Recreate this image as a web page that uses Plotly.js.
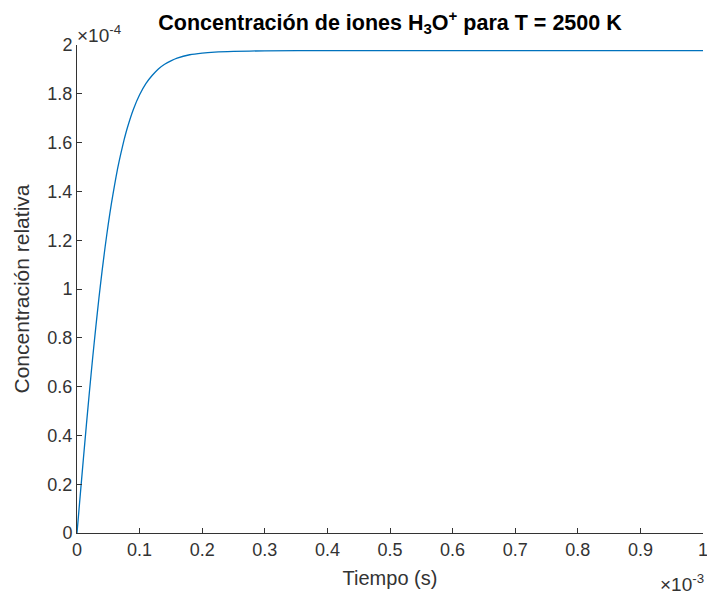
<!DOCTYPE html>
<html>
<head>
<meta charset="utf-8">
<script src="https://cdn.plot.ly/plotly-3.0.1.min.js"></script>
<style>html,body{margin:0;padding:0;background:#fff;}#chart{width:707px;height:598px;}</style>
</head>
<body>
<div id="chart"></div>
<script>
// Tiempo in units of 1e-3 s, concentration in units of 1e-4
const tiempo = [0, 0.005, 0.01, 0.015, 0.02, 0.025, 0.03, 0.035, 0.04, 0.045, 0.05, 0.055, 0.06, 0.065, 0.07, 0.075, 0.08, 0.09, 0.10, 0.11, 0.12, 0.13, 0.14, 0.15, 0.16, 0.18, 0.20, 0.22, 0.25, 0.30, 0.40, 0.60, 0.80, 1.0];
const concentracion = [0, 0.150, 0.298, 0.443, 0.583, 0.717, 0.843, 0.962, 1.072, 1.174, 1.267, 1.351, 1.426, 1.495, 1.555, 1.609, 1.657, 1.736, 1.796, 1.842, 1.875, 1.902, 1.921, 1.935, 1.946, 1.960, 1.967, 1.971, 1.974, 1.976, 1.977, 1.977, 1.977, 1.977];
const xTicks = [0, 0.1, 0.2, 0.3, 0.4, 0.5, 0.6, 0.7, 0.8, 0.9, 1];
const yTicks = [0, 0.2, 0.4, 0.6, 0.8, 1, 1.2, 1.4, 1.6, 1.8, 2];

const FONT = 'Liberation Sans, Arial, Helvetica, sans-serif';
const AX = '#333333';

const trace = {
  x: tiempo, y: concentracion, type: 'scatter', mode: 'lines',
  line: {color: '#0072BD', width: 1.3, shape: 'spline', smoothing: 0.6},
  hoverinfo: 'none', cliponaxis: false
};

const axisCommon = {
  showgrid: false, zeroline: false, showline: true, linecolor: AX, linewidth: 1,
  ticks: 'inside', ticklen: 5, tickwidth: 1, tickcolor: AX, mirror: false,
  ticklabeloverflow: 'allow',
  tickfont: {family: FONT, size: 18, color: AX}
};

const layout = {
  width: 707, height: 598,
  margin: {l: 77, r: 4, t: 45, b: 65},
  paper_bgcolor: '#fff', plot_bgcolor: '#fff',
  showlegend: false,
  title: {
    text: '<b>Concentración de iones H<sub>3</sub>O<sup>+</sup> para T = 2500 K</b>',
    font: {family: FONT, size: 21.5, color: '#000'},
    x: 0.5, xref: 'paper', xanchor: 'center', y: 0.963, yanchor: 'middle'
  },
  xaxis: Object.assign({}, axisCommon, {
    range: [0, 1], tickvals: xTicks, ticktext: xTicks.map(String),
    title: {text: 'Tiempo (s)', font: {family: FONT, size: 20, color: AX}, standoff: 12}
  }),
  yaxis: Object.assign({}, axisCommon, {
    range: [0, 2], tickvals: yTicks, ticktext: yTicks.map(String),
    title: {text: 'Concentración relativa', font: {family: FONT, size: 21, color: AX}, standoff: 12}
  }),
  annotations: [
    {xref: 'paper', yref: 'paper', x: 0, y: 1, xanchor: 'left', yanchor: 'bottom',
     text: '×10<sup>-4</sup>', showarrow: false, font: {family: FONT, size: 19, color: AX}, yshift: -3, xshift: -2},
    {xref: 'paper', yref: 'paper', x: 1, y: 0, xanchor: 'right', yanchor: 'bottom',
     text: '×10<sup>-3</sup>', showarrow: false, font: {family: FONT, size: 19, color: AX}, yshift: -64, xshift: 3}
  ]
};

Plotly.newPlot('chart', [trace], layout, {displayModeBar: false, staticPlot: true});
</script>
</body>
</html>
